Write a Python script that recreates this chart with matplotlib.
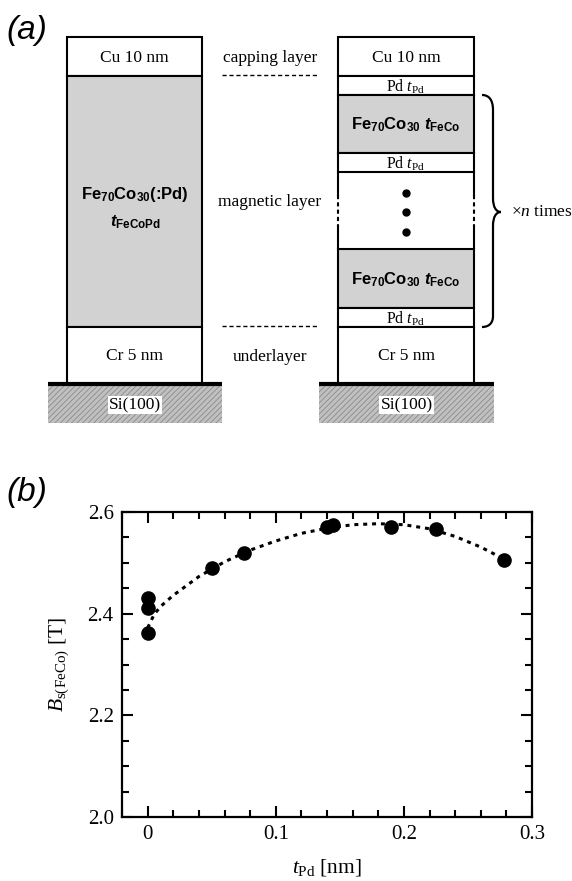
import matplotlib
matplotlib.use("Agg")
import matplotlib.pyplot as plt
from matplotlib.patches import Rectangle, PathPatch
from matplotlib.path import Path
from matplotlib.ticker import MultipleLocator

plt.rcParams['font.family'] = ['Liberation Serif', 'DejaVu Serif']
plt.rcParams['mathtext.fontset'] = 'custom'
plt.rcParams['mathtext.rm'] = 'Liberation Serif'
plt.rcParams['mathtext.it'] = 'Liberation Serif:italic'
plt.rcParams['mathtext.bf'] = 'Liberation Sans:bold'
plt.rcParams['mathtext.sf'] = 'Liberation Sans:bold:italic'
plt.rcParams['hatch.linewidth'] = 0.6

# ---- data for panel (b) ----
t_pd = [0.0, 0.0, 0.0, 0.05, 0.075, 0.14, 0.145, 0.19, 0.225, 0.278]
bs_feco = [2.431, 2.412, 2.361, 2.49, 2.52, 2.570, 2.574, 2.570, 2.567, 2.506]

# dotted guide line
fit_t = [0.0, 0.005, 0.01, 0.02, 0.04, 0.06, 0.08, 0.10, 0.12, 0.14,
         0.16, 0.18, 0.20, 0.22, 0.24, 0.26, 0.28]
fit_bs = [2.372, 2.398, 2.414, 2.436, 2.473, 2.502, 2.525, 2.543, 2.558, 2.568,
          2.575, 2.577, 2.575, 2.567, 2.552, 2.531, 2.505]

x_ticks = [0, 0.1, 0.2, 0.3]
x_ticklabels = ['0', '0.1', '0.2', '0.3']
y_ticks = [2.0, 2.2, 2.4, 2.6]
y_ticklabels = ['2.0', '2.2', '2.4', '2.6']

# ---- layer stacks for panel (a): (label, top, bottom, kind) ----
FECO = "Fe$_\\mathbf{70}$Co$_\\mathbf{30}$ $\\mathsf{t}_\\mathbf{FeCo}$"
PD = "Pd $t_{\\mathrm{Pd}}$"
left_layers = [
    ("Cu 10 nm", 37, 76, 'plain'),
    ("", 76, 327, 'mag'),
    ("Cr 5 nm", 327, 384, 'plain'),
]
right_layers = [
    ("Cu 10 nm", 37, 76, 'plain'),
    (PD, 76, 95, 'pd'),
    (FECO, 95, 153, 'mag'),
    (PD, 153, 172, 'pd'),
    ("", 172, 249, 'gap'),
    (FECO, 249, 308, 'mag'),
    (PD, 308, 327, 'pd'),
    ("Cr 5 nm", 327, 384, 'plain'),
]
mid_labels = [("capping layer", 58), ("magnetic layer", 202), ("underlayer", 357)]

fig = plt.figure(figsize=(5.72, 8.81), dpi=100)

# panel (a) drawn in pixel coordinates
ax_a = fig.add_axes([0, 0, 1, 1])
ax_a.set_xlim(0, 572)
ax_a.set_ylim(881, 0)
ax_a.axis('off')


def draw_stack(ax, x0, x1, layers, sub_x0, sub_x1):
    for label, top, bot, kind in layers:
        if kind == 'gap':
            for xx in (x0, x1):
                ax.plot([xx, xx], [top, 195], color='black', lw=1.5)
                ax.plot([xx, xx], [195, 227], color='black', lw=1.5, ls=(0, (2, 1.5)))
                ax.plot([xx, xx], [227, bot], color='black', lw=1.5)
            xc = (x0 + x1) / 2
            ax.plot([xc, xc, xc], [193, 212, 232], 'o', color='black', ms=5)
            continue
        fc = '#d2d2d2' if kind == 'mag' else 'white'
        ax.add_patch(Rectangle((x0, top), x1 - x0, bot - top, facecolor=fc,
                               edgecolor='black', lw=1.5))
        if not label:
            continue
        if kind == 'mag':
            ax.text((x0 + x1) / 2, (top + bot) / 2 + 1, label, ha='center', va='center',
                    fontsize=12, family='Liberation Sans', fontweight='bold')
        else:
            fs = 11.5 if kind == 'pd' else 12.5
            ax.text((x0 + x1) / 2, (top + bot) / 2 + 1, label, ha='center', va='center',
                    fontsize=fs)
    # substrate
    ax.add_patch(Rectangle((sub_x0, 384), sub_x1 - sub_x0, 39, facecolor='#c0c0c0',
                           edgecolor='#8a8a8a', lw=0, hatch='//////'))
    ax.plot([sub_x0, sub_x1], [384, 384], color='black', lw=3, solid_capstyle='butt')
    ax.text((sub_x0 + sub_x1) / 2, 405, "Si(100)", ha='center', va='center', fontsize=12.5,
            bbox=dict(facecolor='white', edgecolor='none', pad=1.0))


draw_stack(ax_a, 67, 202, left_layers, 48, 222)
draw_stack(ax_a, 338, 474, right_layers, 319, 494)

ax_a.text(135, 195, "Fe$_\\mathbf{70}$Co$_\\mathbf{30}$(:Pd)", ha='center', va='center',
          fontsize=12, family='Liberation Sans', fontweight='bold')
ax_a.text(135, 222, "$\\mathsf{t}_\\mathbf{FeCoPd}$", ha='center', va='center', fontsize=12)

for text, y in mid_labels:
    ax_a.text(270, y, text, ha='center', va='center', fontsize=12.5)
ax_a.plot([222, 318], [75, 75], color='black', lw=1, ls=(0, (3, 2)))
ax_a.plot([222, 318], [326, 326], color='black', lw=1, ls=(0, (3, 2)))

# curly brace for the repeated block
verts = [(482, 95), (489, 95), (493, 100), (493, 110),
         (493, 198),
         (493, 207), (496, 212), (501, 212),
         (496, 212), (493, 217), (493, 226),
         (493, 316),
         (493, 323), (489, 327), (482, 327)]
codes = [Path.MOVETO, Path.CURVE4, Path.CURVE4, Path.CURVE4,
         Path.LINETO,
         Path.CURVE4, Path.CURVE4, Path.CURVE4,
         Path.CURVE4, Path.CURVE4, Path.CURVE4,
         Path.LINETO,
         Path.CURVE4, Path.CURVE4, Path.CURVE4]
ax_a.add_patch(PathPatch(Path(verts, codes), facecolor='none', edgecolor='black', lw=1.6))
ax_a.text(511, 212, "×$n$ times", ha='left', va='center', fontsize=12.5)

ax_a.text(6, 30, "(a)", fontsize=24, family='Liberation Sans', style='italic',
          ha='left', va='center')
ax_a.text(6, 493, "(b)", fontsize=24, family='Liberation Sans', style='italic',
          ha='left', va='center')

# panel (b)
ax = fig.add_axes([122 / 572, (881 - 817) / 881, (532 - 122) / 572, (817 - 512) / 881])
ax.plot(fit_t, fit_bs, color='black', lw=2.2, ls=(0, (1.3, 1.6)))
ax.plot(t_pd, bs_feco, 'o', color='black', ms=9.5, zorder=3)
ax.set_xlim(-0.02, 0.3)
ax.set_ylim(2.0, 2.6)
ax.set_xticks(x_ticks)
ax.set_xticklabels(x_ticklabels)
ax.set_yticks(y_ticks)
ax.set_yticklabels(y_ticklabels)
ax.xaxis.set_minor_locator(MultipleLocator(0.02))
ax.yaxis.set_minor_locator(MultipleLocator(0.05))
ax.tick_params(which='both', direction='in', top=True, right=True, width=1.5,
               labelsize=15)
ax.tick_params(which='major', length=8, pad=6)
ax.tick_params(which='minor', length=5)
for s in ax.spines.values():
    s.set_linewidth(1.6)
ax.set_xlabel("$t_{\\mathrm{Pd}}$ [nm]", fontsize=15.5, labelpad=9)
ax.set_ylabel("$B_{\\mathrm{s(FeCo)}}$ [T]", fontsize=15.5, labelpad=12)

fig.savefig("out.png", dpi=100)
